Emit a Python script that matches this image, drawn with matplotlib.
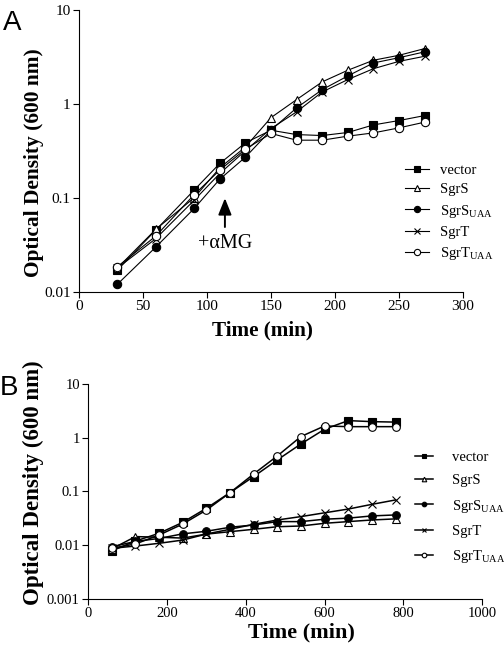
import numpy as np
import matplotlib
matplotlib.use("Agg")
import matplotlib.pyplot as plt

plt.rcParams["font.family"] = ["Liberation Serif", "DejaVu Serif"]
plt.rcParams["mathtext.fontset"] = "custom"
plt.rcParams["mathtext.rm"] = "Liberation Serif"

# ---------- data: panel A ----------
time_a = [30, 60, 90, 110, 130, 150, 170, 190, 210, 230, 250, 270]
vector_a = [0.0171, 0.0457, 0.122, 0.234, 0.388, 0.528, 0.475, 0.464, 0.500, 0.602, 0.670, 0.757]
sgrs_a = [0.0180, 0.0465, 0.101, 0.210, 0.350, 0.720, 1.12, 1.73, 2.30, 2.94, 3.32, 3.91]
sgrs_uaa_a = [0.0121, 0.0301, 0.0776, 0.159, 0.273, 0.530, 0.914, 1.43, 2.00, 2.75, 3.13, 3.61]
sgrt_a = [0.0180, 0.0370, 0.095, 0.183, 0.320, 0.550, 0.830, 1.35, 1.83, 2.39, 2.86, 3.24]
sgrt_uaa_a = [0.0186, 0.0394, 0.109, 0.199, 0.332, 0.488, 0.414, 0.414, 0.457, 0.495, 0.560, 0.644]

# ---------- data: panel B ----------
time_b = [60, 120, 180, 240, 300, 360, 420, 480, 540, 600, 660, 720, 780]
vector_b = [0.0078, 0.0119, 0.0166, 0.0266, 0.0486, 0.0952, 0.190, 0.388, 0.771, 1.45, 2.10, 2.01, 1.97]
sgrs_b = [0.0085, 0.0144, 0.0140, 0.0135, 0.0160, 0.0178, 0.0197, 0.0220, 0.0227, 0.0255, 0.0274, 0.0294, 0.0308]
sgrs_uaa_b = [0.0093, 0.0117, 0.0133, 0.0162, 0.0181, 0.0215, 0.0237, 0.0274, 0.0274, 0.0304, 0.0318, 0.0350, 0.0365]
sgrt_b = [0.0087, 0.0096, 0.0108, 0.0124, 0.0161, 0.0197, 0.0244, 0.0294, 0.0340, 0.0400, 0.0470, 0.0575, 0.0695]
sgrt_uaa_b = [0.0087, 0.0105, 0.0154, 0.0247, 0.0450, 0.0950, 0.212, 0.460, 1.06, 1.67, 1.62, 1.62, 1.62]

labels = ["vector", "SgrS", r"SgrS$_{\mathrm{UAA}}$", "SgrT", r"SgrT$_{\mathrm{UAA}}$"]
styles = [
    dict(marker="s", mfc="black", mec="black"),
    dict(marker="^", mfc="white", mec="black"),
    dict(marker="o", mfc="black", mec="black"),
    dict(marker="x", mfc="black", mec="black"),
    dict(marker="o", mfc="white", mec="black"),
]


def style_axes(ax, xlim, xticks, ylim, yticks, yticklabels):
    ax.set_yscale("log")
    ax.set_xlim(*xlim)
    ax.set_ylim(*ylim)
    ax.set_xticks(xticks)
    ax.set_yticks(yticks)
    ax.set_yticklabels(yticklabels)
    ax.yaxis.set_minor_locator(matplotlib.ticker.NullLocator())
    ax.spines["top"].set_visible(False)
    ax.spines["right"].set_visible(False)
    ax.tick_params(direction="out", length=4, width=0.8, labelsize=11, pad=2)


fig = plt.figure(figsize=(5.04, 6.53), dpi=100)

# ---------- panel A ----------
axA = fig.add_axes([0.1567, 0.5528, 0.762, 0.4314])
series_a = [vector_a, sgrs_a, sgrs_uaa_a, sgrt_a, sgrt_uaa_a]
for ys, lab, st in zip(series_a, labels, styles):
    axA.plot(time_a, ys, color="black", lw=0.8, ms=6, mew=0.8, label=lab, **st)
style_axes(axA, (0, 300), [0, 50, 100, 150, 200, 250, 300],
           (0.01, 10), [0.01, 0.1, 1, 10], ["0.01", "0.1", "1", "10"])
axA.set_xlabel("Time (min)", fontsize=15.2, fontweight="bold")
axA.set_ylabel("Optical Density (600 nm)", fontsize=15.4, fontweight="bold")
axA.xaxis.set_label_coords(0.477, -0.1)
axA.yaxis.set_label_coords(-0.09, 0.46)
axA.annotate("", xy=(114, 0.107), xytext=(114, 0.046),
             arrowprops=dict(arrowstyle="-|>,head_width=0.4,head_length=1.0",
                             color="black", lw=1.4))
axA.text(114, 0.033, "+αMG", ha="center", va="center", fontsize=14.5)
axA.legend(loc="upper left", bbox_to_anchor=(0.85, 0.455), frameon=False,
           fontsize=10.5, handlelength=1.6, handletextpad=0.8,
           labelspacing=0.42, borderpad=0, borderaxespad=0, markerscale=0.75)
fig.text(0.005, 0.985, "A", fontsize=20, family="Liberation Sans", va="top")

# ---------- panel B ----------
axB = fig.add_axes([0.175, 0.0832, 0.7817, 0.3283])
series_b = [vector_b, sgrs_b, sgrs_uaa_b, sgrt_b, sgrt_uaa_b]
for ys, lab, st in zip(series_b, labels, styles):
    axB.plot(time_b, ys, color="black", lw=1.1, ms=5.5, mew=0.8, label=lab, **st)
style_axes(axB, (0, 1000), [0, 200, 400, 600, 800, 1000],
           (0.001, 10), [0.001, 0.01, 0.1, 1, 10], ["0.001", "0.01", "0.1", "1", "10"])
axB.tick_params(labelsize=10.5)
axB.set_xlabel("Time (min)", fontsize=16, fontweight="bold")
axB.set_ylabel("Optical Density (600 nm)", fontsize=16.5, fontweight="bold")
axB.xaxis.set_label_coords(0.54, -0.11)
axB.yaxis.set_label_coords(-0.112, 0.542)
axB.legend(loc="upper left", bbox_to_anchor=(0.83, 0.69), frameon=False,
           fontsize=10.5, handlelength=1.2, handletextpad=1.3,
           labelspacing=0.7, borderpad=0, borderaxespad=0, markerscale=0.6)
fig.text(0.0, 0.425, "B", fontsize=20, family="Liberation Sans", va="top")

fig.savefig("out.png", dpi=100)
